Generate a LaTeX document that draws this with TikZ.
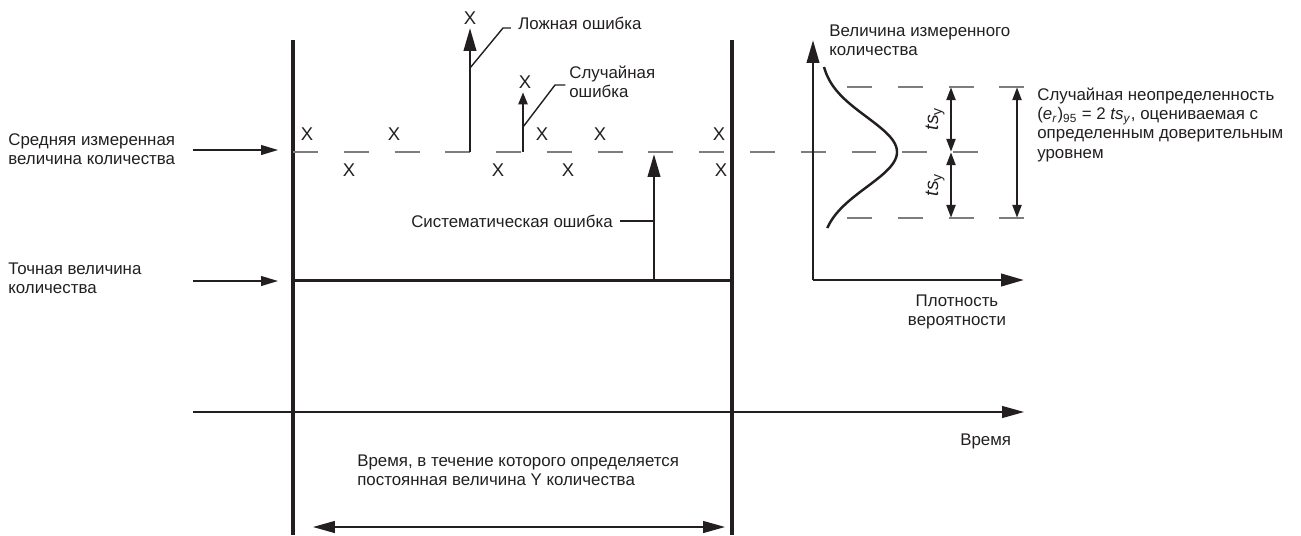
\documentclass[tikz,border=0pt]{standalone}
\usepackage{fontspec}
\setmainfont{Liberation Sans}
\usetikzlibrary{arrows.meta, positioning, calc}
\definecolor{ink}{RGB}{35,31,32}
\definecolor{dashgray}{RGB}{125,125,125}
\tikzstyle{lbl} = [inner sep=0pt, align=left, text=ink, font=\fontsize{9.6}{10.7}\selectfont]
\tikzstyle{xmark} = [inner sep=0pt, text=ink, font=\fontsize{10.5}{11}\selectfont]
\tikzstyle{bound} = [draw=ink, line width=2pt]
\tikzstyle{meanline} = [draw=dashgray, line width=0.9pt, dash pattern=on 14.2pt off 14.7pt]
\tikzstyle{thinarrow} = [draw=ink, line width=0.7pt, -{Triangle[length=9.6pt, width=5.6pt]}]
\tikzstyle{thickarrow} = [draw=ink, line width=1.6pt, -{Triangle[length=13pt, width=7pt]}]
\tikzstyle{smallarrow} = [draw=ink, line width=1.6pt, -{Triangle[length=7pt, width=5pt]}]
\tikzstyle{darrow} = [draw=ink, line width=1.6pt, {Triangle[length=7.5pt, width=5pt]}-{Triangle[length=7.5pt, width=5pt]}]
\tikzstyle{spanarrow} = [draw=ink, line width=0.8pt, {Triangle[length=12.5pt, width=6.8pt]}-{Triangle[length=12.5pt, width=6.8pt]}]
\tikzstyle{timearrow} = [draw=ink, line width=0.7pt, -{Triangle[length=12.5pt, width=6.8pt]}]
\tikzstyle{leader} = [draw=ink, line width=0.8pt]

\begin{document}
\begin{tikzpicture}[x=0.02cm, y=-0.02cm]
  \useasboundingbox (0,0) rectangle (1301,535);

  % Границы интервала
  \coordinate (lt) at (293,40);
  \coordinate (lb) at (293,535);
  \coordinate (rt) at (732,40);
  \coordinate (rb) at (732,535);
  \draw[bound] (lt) -- (lb);
  \draw[bound] (rt) -- (rb);

  % Средняя и точная величины
  \coordinate (meanl) at (293,152);
  \coordinate (meanr) at (985,152);
  \coordinate (truel) at (293,280);
  \coordinate (truer) at (732,280);
  \draw[meanline] (meanl) -- (meanr);
  \draw[draw=ink, line width=1.7pt] (truel) -- (truer);

  % Подписи слева
  \node[lbl, anchor=base west] (meanlbl) at (8,164) {Средняя измеренная\\величина количества};
  \node[lbl, anchor=base west] (truelbl) at (8,293) {Точная величина\\количества};
  \coordinate (meanptr) at (193,150);
  \coordinate (meantip) at (278,150);
  \coordinate (trueptr) at (193,281);
  \coordinate (truetip) at (278,281);
  \draw[thinarrow] (meanptr) -- (meantip);
  \draw[thinarrow] (trueptr) -- (truetip);

  % Ложная ошибка
  \coordinate (fbase) at (470,152);
  \coordinate (ftip) at (470,28);
  \coordinate (fknee) at (503,28);
  \draw[thickarrow] (fbase) -- (ftip);
  \node[xmark] (fx) at (470,18) {X};
  \node[lbl, anchor=base west] (falselbl) at (518,29) {Ложная ошибка};
  \draw[leader] (470,68) -- (fknee) -- ([xshift=-4pt]falselbl.west |- fknee);

  % Случайная ошибка
  \coordinate (rbase) at (523,152);
  \coordinate (rtip) at (523,92);
  \coordinate (rknee) at (555,85);
  \draw[smallarrow] (rbase) -- (rtip);
  \node[xmark] (rx) at (525,82) {X};
  \node[lbl, anchor=base west] (randlbl) at (569,97) {Случайная\\ошибка};
  \draw[leader] (523,127) -- (rknee) -- ([xshift=-2pt]randlbl.west |- rknee);

  % Систематическая ошибка
  \coordinate (sbase) at (654,280);
  \coordinate (stip) at (654,154);
  \draw[thickarrow] (sbase) -- (stip);
  \node[lbl, anchor=base east] (syslbl) at (613,227) {Систематическая ошибка};
  \draw[leader] ([xshift=4pt]syslbl.east) -- (syslbl.east -| stip);

  % Отсчёты
  \foreach \x [count=\i] in {307,394,542,600,719}
    \node[xmark] (up\i) at (\x,134) {X};
  \foreach \x [count=\i] in {349,498,568,721}
    \node[xmark] (dn\i) at (\x,170) {X};

  % Ось времени
  \coordinate (t0) at (193,412);
  \coordinate (t1) at (1024,412);
  \draw[timearrow] (t0) -- (t1);
  \node[lbl, anchor=base west] (timelbl) at (960,445) {Время};
  \node[lbl, anchor=base west] (spanlbl) at (357,485) {Время, в течение которого определяется\\постоянная величина Y количества};
  \coordinate (s0) at (313,527);
  \coordinate (s1) at (725,527);
  \draw[spanarrow] (s0) -- (s1);

  % Плотность вероятности
  \coordinate (origin) at (813,280);
  \coordinate (ytip) at (813,40);
  \coordinate (xtip) at (1024,280);
  \draw[thickarrow] (origin) -- (ytip);
  \draw[thickarrow] (origin) -- (xtip);
  \node[lbl, anchor=base west] (ylbl) at (829,55) {Величина измеренного\\количества};
  \node[lbl, anchor=base, align=center] (xlbl) at (957,325) {Плотность\\вероятности};
  \draw[draw=ink, line width=1.4pt] plot[domain=67:228, samples=80, smooth] ({820+77*exp(-0.5*((\x-152)/35)^2)}, \x);

  % Границы доверительного интервала
  \coordinate (hil) at (847,87);
  \coordinate (hir) at (1025,87);
  \coordinate (lol) at (847,218);
  \coordinate (lor) at (1025,218);
  \draw[meanline] (hil) -- (hir);
  \draw[meanline] (lol) -- (lor);

  % ts_y
  \coordinate (tsa) at (951,87);
  \coordinate (tsm) at (951,152);
  \coordinate (tsb) at (951,218);
  \draw[darrow] (tsa) -- (tsm);
  \draw[darrow] (tsm) -- (tsb);
  \node[lbl, rotate=90, font=\fontsize{11}{12}\selectfont] (ts1) at (935,119) {\textit{ts}\raisebox{-0.35ex}{\footnotesize y}};
  \node[lbl, rotate=90, font=\fontsize{11}{12}\selectfont] (ts2) at (935,185) {\textit{ts}\raisebox{-0.35ex}{\footnotesize y}};
  \coordinate (ua) at (1017,87);
  \coordinate (ub) at (1017,218);
  \draw[darrow] (ua) -- (ub);
  \node[lbl, anchor=base west, font=\fontsize{9.6}{10.9}\selectfont] (unclbl) at (1037,158) {Случайная неопределенность\\(\textit{e}\textsubscript{\textit{r}})\textsubscript{95} = 2 \textit{ts}\textsubscript{\textit{y}}, оцениваемая с\\определенным доверительным\\уровнем};
\end{tikzpicture}
\end{document}
